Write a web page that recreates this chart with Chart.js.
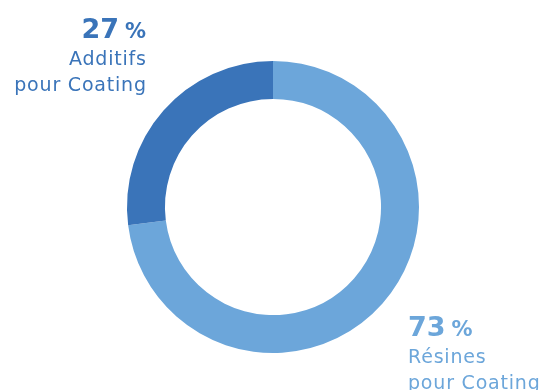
<!DOCTYPE html>
<html><head><meta charset="utf-8">
<script src="https://cdn.jsdelivr.net/npm/chart.js@4/dist/chart.umd.min.js"></script>
<style>html,body{margin:0;padding:0;background:#fff}#wrap{width:541px;height:390px;position:relative}</style>
</head><body><div id="wrap"><canvas id="c" width="541" height="390"></canvas></div>
<script>
const categories = ["Résines\npour Coating", "Additifs\npour Coating"];
const values = [73, 27];
const colors = ["#6ca6da", "#3a74b9"];

const labelPlugin = {
  id: 'outLabels',
  afterDraw(chart) {
    const ctx = chart.ctx;
    const meta = chart.getDatasetMeta(0);
    const arc0 = meta.data[0];
    const cx = arc0.x, cy = arc0.y;
    const fam = '"DejaVu Sans", "Noto Sans", sans-serif';
    const place = [
      {x: cx + 135, y: cy + 129, align: 'left'},
      {x: cx - 127, y: cy - 169, align: 'right'}
    ];
    function w(txt, font, ls) {
      ctx.font = font; ctx.letterSpacing = ls + 'px';
      return ctx.measureText(txt).width - ls;
    }
    function draw(txt, x, y, font, ls) {
      ctx.font = font; ctx.letterSpacing = ls + 'px';
      ctx.fillText(txt, x, y);
    }
    values.forEach((v, i) => {
      const p = place[i];
      ctx.save();
      ctx.fillStyle = colors[i];
      ctx.textBaseline = 'alphabetic';
      ctx.textAlign = 'left';
      const num = String(v);
      const fNum = '700 27px ' + fam, fPct = '700 21px ' + fam, fTxt = '400 19px ' + fam;
      const ls = 0.8;
      const wNum = w(num, fNum, 0);
      const wPct = w('%', fPct, 0);
      const gap = 6;
      const total = wNum + gap + wPct;
      const x0 = p.align === 'left' ? p.x : p.x - total;
      draw(num, x0, p.y, fNum, 0);
      draw('%', x0 + wNum + gap, p.y, fPct, 0);
      categories[i].split('\n').forEach((line, k) => {
        const lw = w(line, fTxt, ls);
        const lx = p.align === 'left' ? p.x : p.x - lw;
        draw(line, lx, p.y + 26.5 + k * 26, fTxt, ls);
      });
      ctx.restore();
    });
  }
};

new Chart(document.getElementById('c'), {
  type: 'doughnut',
  data: {
    labels: categories.map(s => s.replace('\n', ' ')),
    datasets: [{ data: values, backgroundColor: colors, borderWidth: 0, hoverOffset: 0 }]
  },
  options: {
    responsive: false,
    animation: false,
    cutout: '74%',
    layout: { padding: { top: 61, bottom: 37, left: 127, right: 122 } },
    plugins: { legend: { display: false }, tooltip: { enabled: false } }
  },
  plugins: [labelPlugin]
});
</script></body></html>
